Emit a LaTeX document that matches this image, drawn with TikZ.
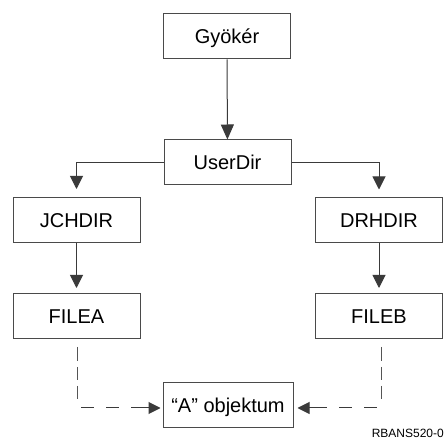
\documentclass[tikz,border=0pt]{standalone}
\usepackage{fontspec}
\setmainfont{Liberation Sans}
\usetikzlibrary{arrows.meta}
\definecolor{linegray}{HTML}{3A3A3A}
\definecolor{boxgray}{HTML}{4A4A4A}
\definecolor{dashgray}{HTML}{555555}
\tikzset{
  dirbox/.style={draw=boxgray, line width=1pt, minimum width=127pt, minimum height=45pt,
    inner sep=0pt, font=\fontsize{20}{24}\selectfont, text height=14.3pt, text depth=0pt},
  link/.style={draw=linegray, line width=1pt, -{Triangle[length=13pt,width=13pt]}},
  vdash/.style={draw=dashgray, line width=1pt, dash pattern=on 14pt off 6pt on 13pt off 6pt},
  hdash/.style={draw=linegray, line width=1pt, {Triangle[length=12pt,width=12pt]}-,
    dash pattern=on 18pt off 12pt on 13pt off 12pt on 13pt off 12pt}
}
\begin{document}
\begin{tikzpicture}[x=1pt, y=1pt]
  \useasboundingbox (0,0) rectangle (445,445);
  \fill[white] (0,0) rectangle (445,445);

  % directory tree
  \node[dirbox] (root) at (227,408.5) {Gyökér};
  \node[dirbox] (user) at (227.5,282.5) {UserDir};
  \node[dirbox] (jch)  at (76.5,225) {JCHDIR};
  \node[dirbox] (drh)  at (379,224.5) {DRHDIR};
  \node[dirbox] (fa)   at (76.5,129) {FILEA};
  \node[dirbox] (fb)   at (379,129) {FILEB};
  \node[dirbox, minimum width=130pt] (obj) at (228,39.5) {“A” objektum};

  % solid links
  \draw[link, -{Triangle[length=15pt,width=13pt]}] (root) -- (user);
  \draw[link, shorten >=8pt] (user.west) -| (jch.north);
  \draw[link, shorten >=8pt] (user.east) -| (drh.north);
  \draw[link, shorten >=5pt] (jch) -- (fa);
  \draw[link, shorten >=5pt] (drh) -- (fb);

  % links from the files to the object
  \coordinate (la) at (77,98);
  \coordinate (lb) at (77,46);
  \coordinate (lc) at (81,37);
  \coordinate (ra) at (381,98);
  \coordinate (rb) at (381,46);
  \coordinate (rc) at (377,37);
  \draw[vdash] (la) -- (lb);
  \draw[vdash] (ra) -- (rb);
  \draw[hdash, shorten <=2pt] (obj.west |- lc) -- (lc);
  \draw[hdash, shorten <=4pt] (obj.east |- rc) -- (rc);

  % figure id
  \node[anchor=base east, inner sep=0pt, font=\fontsize{12}{14}\selectfont] (fig) at (444,8) {RBANS520-0};
\end{tikzpicture}
\end{document}
